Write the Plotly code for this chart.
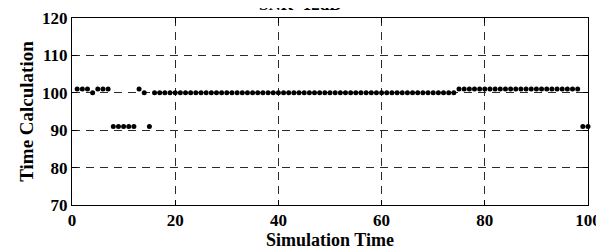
import plotly.graph_objects as go

sim_time = list(range(1, 101))
time_calc = [
    101, 101, 101, 100, 101, 101, 101, 91, 91, 91,
    91, 91, 101, 100, 91, 100, 100, 100, 100, 100,
    100, 100, 100, 100, 100, 100, 100, 100, 100, 100,
    100, 100, 100, 100, 100, 100, 100, 100, 100, 100,
    100, 100, 100, 100, 100, 100, 100, 100, 100, 100,
    100, 100, 100, 100, 100, 100, 100, 100, 100, 100,
    100, 100, 100, 100, 100, 100, 100, 100, 100, 100,
    100, 100, 100, 100, 101, 101, 101, 101, 101, 101,
    101, 101, 101, 101, 101, 101, 101, 101, 101, 101,
    101, 101, 101, 101, 101, 101, 101, 101, 91, 91,
]
x_ticks = [0, 20, 40, 60, 80, 100]
y_ticks = [70, 80, 90, 100, 110, 120]
title_text = "SNR=12dB"
x_title = "Simulation Time"
y_title = "Time Calculation"

FONT = "Liberation Serif"

fig = go.Figure()
fig.add_trace(go.Scatter(
    x=sim_time, y=time_calc, mode="markers",
    marker=dict(color="black", size=5, line=dict(width=0)),
    showlegend=False, cliponaxis=False,
))

axis_common = dict(
    showline=True, linecolor="black", linewidth=1, mirror="ticks",
    ticks="inside", ticklen=5, tickcolor="black", tickwidth=1,
    showgrid=True, gridcolor="#2a2a2a", gridwidth=1, griddash="8px,6px",
    zeroline=False, automargin=False,
    tickfont=dict(family=FONT, size=17, color="black"),
)

# page body has an 8px margin, so the figure is sized to fit the 604x251 window
fig.update_layout(
    width=596, height=243,
    margin=dict(l=64, r=16, t=10, b=46),
    paper_bgcolor="white", plot_bgcolor="white",
    font=dict(family=FONT, color="black"),
    xaxis=dict(
        range=[0, 100], tickvals=x_ticks, ticktext=[f"<b>{v}</b>" for v in x_ticks],
        title=dict(text=f"<b>{x_title}</b>", font=dict(family=FONT, size=18, color="black"), standoff=2),
        **axis_common,
    ),
    yaxis=dict(
        range=[70, 120], tickvals=y_ticks, ticktext=[f"<b>{v}</b>" for v in y_ticks],
        title=dict(text=f"<b>{y_title}</b>", font=dict(family=FONT, size=19, color="black"), standoff=3),
        **axis_common,
    ),
    annotations=[dict(
        text=f"<b>{title_text}</b>", xref="paper", yref="paper",
        x=(292 - 64) / 516, y=1.0, yshift=2, xanchor="center", yanchor="bottom",
        showarrow=False, font=dict(family=FONT, size=17, color="black"),
    )],
)

fig.write_html("out.html")
